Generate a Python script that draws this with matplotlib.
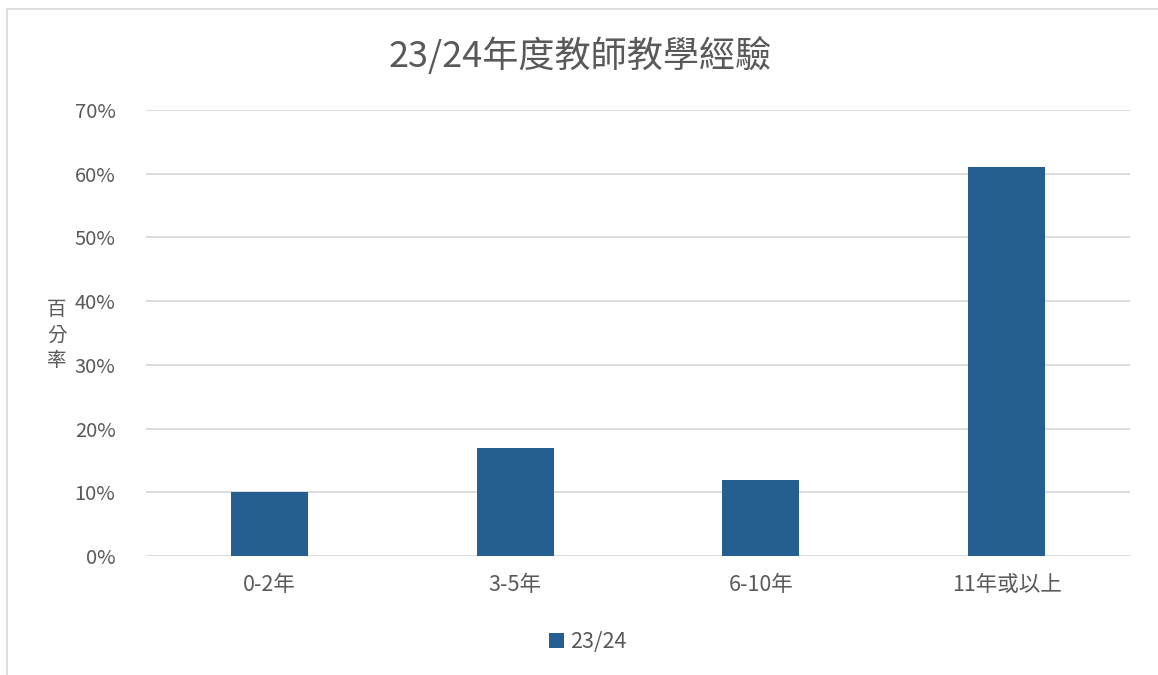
import matplotlib
matplotlib.use("Agg")
import matplotlib.pyplot as plt
from matplotlib.patches import Rectangle
from matplotlib.ticker import FuncFormatter

plt.rcParams['font.family'] = ['Noto Sans CJK TC', 'DejaVu Sans']

categories = ["0-2年", "3-5年", "6-10年", "11年或以上"]
values = [0.10, 0.17, 0.12, 0.61]
series_name = "23/24"
title = "23/24年度教師教學經驗"
ylabel = "百分率"

bar_color = "#255e91"
text_color = "#595959"
grid_color = "#d9d9d9"

fig = plt.figure(figsize=(11.58, 6.75), dpi=100)
ax = fig.add_axes([0.1261, 0.1763, 0.8497, 0.6607])

# chart frame (right and bottom edges fall outside the picture)
fig.patches.append(Rectangle((7 / 1158, -0.1), 1.2, (675 - 9) / 675 + 0.1,
                             transform=fig.transFigure, fill=False,
                             edgecolor=grid_color, linewidth=1.2))

x = range(len(categories))
ax.bar(x, values, width=0.313, color=bar_color, label=series_name, zorder=3)

ax.set_xlim(-0.5, len(categories) - 0.5)
ax.set_ylim(0, 0.70)
ax.set_yticks([i / 10 for i in range(8)])
ax.yaxis.set_major_formatter(FuncFormatter(lambda v, p: f"{v * 100:.0f}%"))
ax.set_xticks(list(x))
ax.set_xticklabels(categories)

ax.grid(axis='y', color=grid_color, linewidth=1.3, zorder=0)
for s in ax.spines.values():
    s.set_visible(False)
ax.tick_params(length=0, labelcolor=text_color)
ax.tick_params(axis='y', pad=22, labelsize=14.5)
ax.tick_params(axis='x', pad=13, labelsize=15.5)

fig.text(580 / 1158, 1 - 56 / 675, title, ha='center', va='center',
         fontsize=26, color=text_color)
fig.text(57 / 1158, 1 - 335 / 675, "\n".join(ylabel), ha='center', va='center',
         fontsize=14, color=text_color, linespacing=1.3)

leg = fig.legend(loc='center', bbox_to_anchor=(588 / 1158, 1 - 642 / 675),
                 frameon=False, fontsize=15.5, handlelength=0.7, handleheight=0.7,
                 handletextpad=0.3)
for t in leg.get_texts():
    t.set_color(text_color)

fig.savefig("out.png", dpi=100)
